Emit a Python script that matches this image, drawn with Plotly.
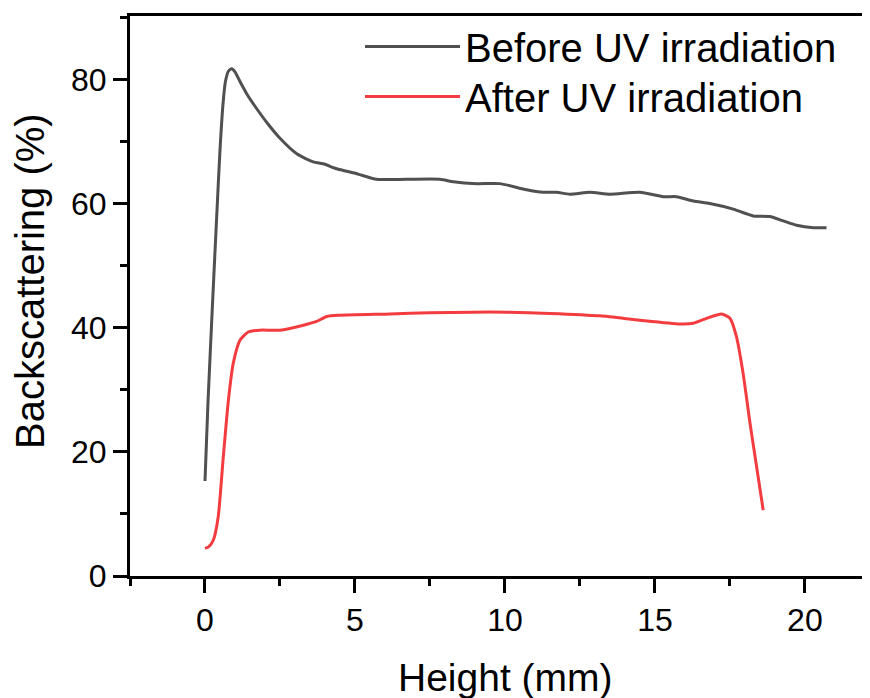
import plotly.graph_objects as go

# Before UV irradiation
before_x = [0.0, 0.1, 0.26, 0.39, 0.5, 0.6, 0.68, 0.78, 0.89, 1.0, 1.15, 1.4, 1.72, 2.1, 2.5, 3.06, 3.61, 3.94, 4.39,
            5.06, 5.72, 6.72, 7.83, 8.28, 9.06, 9.83, 10.72, 11.28, 11.72, 12.17, 12.83, 13.5,
            14.5, 15.28, 15.72, 16.28, 16.83, 17.61, 18.28, 18.83, 19.28, 19.72, 20.28, 20.72]
before_y = [15.3, 28.0, 44.8, 57.9, 68.6, 76.0, 79.6, 81.3, 81.7, 81.2, 79.8, 77.6, 75.3, 72.8, 70.5, 68.0, 66.7, 66.4, 65.6,
            64.8, 63.9, 63.9, 63.9, 63.5, 63.2, 63.2, 62.2, 61.8, 61.8, 61.5, 61.8, 61.5,
            61.8, 61.1, 61.1, 60.4, 60.0, 59.1, 58.0, 57.9, 57.2, 56.5, 56.1, 56.1]

# After UV irradiation
after_x = [0.0, 0.12, 0.28, 0.44, 0.61, 0.78, 0.94, 1.17, 1.44, 1.83, 2.5, 3.28, 3.72, 4.06, 4.5, 6.17, 7.5,
           8.94, 10.06, 11.5, 13.17, 14.5, 15.83, 16.28, 16.72, 17.22, 17.5, 17.72, 17.94, 18.17,
           18.39, 18.61]
after_y = [4.45, 4.7, 5.8, 9.5, 19.2, 28.3, 34.2, 38.0, 39.3, 39.6, 39.6, 40.4, 41.0, 41.8, 42.0, 42.2, 42.4,
           42.5, 42.5, 42.3, 41.9, 41.2, 40.6, 40.7, 41.5, 42.2, 41.5, 38.5, 32.6, 24.6,
           17.6, 10.6]

x_ticks = [0, 5, 10, 15, 20]
y_ticks = [0, 20, 40, 60, 80]

FONT = "Liberation Sans, Arial, sans-serif"

# page body has an 8 px margin: figure is 862x690, drawn from (8, 8)
L, T = 122, 8          # plot-area left / top inside the figure
PW, PH = 740, 560      # plot-area width / height

fig = go.Figure()
fig.add_trace(go.Scatter(x=before_x, y=before_y, mode="lines", name="Before UV irradiation",
                         legend="legend",
                         line=dict(color="#505050", width=3, shape="spline", smoothing=0.6)))
fig.add_trace(go.Scatter(x=after_x, y=after_y, mode="lines", name="After UV irradiation",
                         legend="legend2",
                         line=dict(color="#f23c40", width=3, shape="spline", smoothing=0.6)))

axis_common = dict(showgrid=False, zeroline=False, showline=True, linecolor="black", linewidth=3,
                   ticks="outside", ticklen=14, tickwidth=3, tickcolor="black",
                   tickfont=dict(family=FONT, size=32, color="black"))

fig.update_xaxes(range=[-2.5, 22.17], tickvals=x_ticks, mirror=True,
                 minor=dict(dtick=2.5, tick0=0, ticks="outside", ticklen=7, tickwidth=3, tickcolor="black"),
                 **axis_common)
fig.update_yaxes(range=[0, 90.2], tickvals=y_ticks,
                 minor=dict(dtick=10, tick0=0, ticks="outside", ticklen=7, tickwidth=3, tickcolor="black"),
                 **axis_common)

# titles (window px -> figure px: subtract 8)
fig.add_annotation(text="Height (mm)", xref="paper", yref="paper", x=(505 - 8 - L) / PW,
                   y=-(654 - 8 - (T + PH)) / PH, xanchor="center", yanchor="top", showarrow=False,
                   font=dict(family=FONT, size=39, color="black"))
fig.add_annotation(text="Backscattering (%)", xref="paper", yref="paper", x=(30 - 8 - L) / PW,
                   y=((T + PH) - (281 - 8)) / PH, xanchor="center", yanchor="middle", textangle=-90,
                   showarrow=False, font=dict(family=FONT, size=40, color="black"))

leg_common = dict(xanchor="left", yanchor="top", font=dict(family=FONT, size=40, color="black"),
                  bgcolor="rgba(0,0,0,0)", itemwidth=95)
leg_x = (360 - 8 - L) / PW
fig.update_layout(
    width=862, height=690,
    margin=dict(l=L, r=0, t=T, b=690 - T - PH),
    plot_bgcolor="white", paper_bgcolor="white",
    legend=dict(x=leg_x, y=1 - (14 - 8 - T) / PH, **leg_common),
    legend2=dict(x=leg_x, y=1 - (64 - 8 - T) / PH, **leg_common),
    showlegend=True,
)

fig.write_html("out.html")
